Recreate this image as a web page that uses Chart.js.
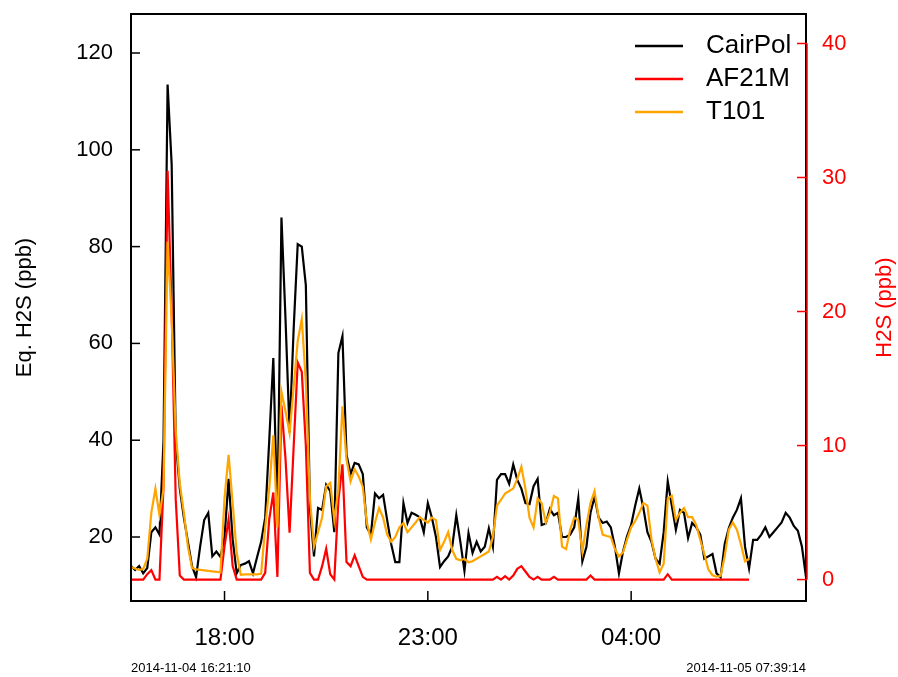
<!DOCTYPE html>
<html>
<head>
<meta charset="utf-8">
<title>CairPol / AF21M / T101</title>
<script src="https://cdn.jsdelivr.net/npm/chart.js@4.4.0/dist/chart.umd.min.js"></script>
<style>
  body { margin: 0; background: #fff; }
  #grafico { display: block; }
</style>
</head>
<body>
<canvas id="grafico" width="898" height="677"></canvas>
<script>
// horas de muestreo (cada 6 min)
const horas = [
    "15:42", "15:48", "15:54", "16:00", "16:06", "16:12", "16:18", "16:24", "16:30", "16:36",
    "16:42", "16:48", "16:54", "17:00", "17:06", "17:12", "17:18", "17:24", "17:30", "17:36",
    "17:42", "17:48", "17:54", "18:00", "18:06", "18:12", "18:18", "18:24", "18:30", "18:36",
    "18:42", "18:48", "18:54", "19:00", "19:06", "19:12", "19:18", "19:24", "19:30", "19:36",
    "19:42", "19:48", "19:54", "20:00", "20:06", "20:12", "20:18", "20:24", "20:30", "20:36",
    "20:42", "20:48", "20:54", "21:00", "21:06", "21:12", "21:18", "21:24", "21:30", "21:36",
    "21:42", "21:48", "21:54", "22:00", "22:06", "22:12", "22:18", "22:24", "22:30", "22:36",
    "22:42", "22:48", "22:54", "23:00", "23:06", "23:12", "23:18", "23:24", "23:30", "23:36",
    "23:42", "23:48", "23:54", "00:00", "00:06", "00:12", "00:18", "00:24", "00:30", "00:36",
    "00:42", "00:48", "00:54", "01:00", "01:06", "01:12", "01:18", "01:24", "01:30", "01:36",
    "01:42", "01:48", "01:54", "02:00", "02:06", "02:12", "02:18", "02:24", "02:30", "02:36",
    "02:42", "02:48", "02:54", "03:00", "03:06", "03:12", "03:18", "03:24", "03:30", "03:36",
    "03:42", "03:48", "03:54", "04:00", "04:06", "04:12", "04:18", "04:24", "04:30", "04:36",
    "04:42", "04:48", "04:54", "05:00", "05:06", "05:12", "05:18", "05:24", "05:30", "05:36",
    "05:42", "05:48", "05:54", "06:00", "06:06", "06:12", "06:18", "06:24", "06:30", "06:36",
    "06:42", "06:48", "06:54", "07:00", "07:06", "07:12", "07:18", "07:24", "07:30", "07:36",
    "07:42", "07:48", "07:54", "08:00", "08:06", "08:12", "08:18"
];

// Eq. H2S (ppb) - eje izquierdo
const cairpol = [
    14, 13.2, 14, 12.5, 13.6, 21, 22, 20.5, 40, 113.5,
    97, 40, 30, 24, 19, 14, 11.7, 18, 23.5, 25,
    16, 17, 15.9, 20, 32, 19.5, 12.5, 14.2, 14.5, 15,
    12.5, 15.8, 19, 24, 40, 57, 23.5, 86, 65, 41.6,
    63, 80.5, 80, 72, 26, 16, 26, 25.6, 30.8, 29.5,
    21, 58, 61.5, 37, 33, 35.3, 35, 33, 22, 20.5,
    29, 28, 28.7, 23.5, 18.5, 14.8, 14.8, 27, 22.9, 25,
    24.6, 24.1, 21, 27, 24, 20, 13.8, 15, 16, 18,
    24.5, 19, 13, 20.8, 16.7, 19, 17, 18, 21.8, 18,
    31.8, 33, 33, 31, 35, 31.8, 30, 27, 26.8, 30.5,
    32, 22.5, 22.8, 25.8, 24.5, 25, 20, 20, 20.5, 22,
    28, 15, 18, 25, 28.3, 24, 22.9, 23.2, 22, 18,
    12.5, 17, 20.2, 22.5, 26.5, 30, 26, 21, 19, 15.5,
    14.5, 21, 31.5, 26.5, 21.5, 25.6, 25, 19.8, 22.9, 22,
    20.5, 15.5, 16, 16.5, 12.5, 11.7, 18.5, 21.8, 24, 25.6,
    28, 18, 13.5, 19.4, 19.4, 20.5, 22, 20, 21, 22,
    23, 25, 24, 22.3, 21.3, 18, 11.7
];

// H2S (ppb) - eje derecho
const af21m = [
    0, 0, 0, 0, 0.4, 0.7, 0, 0, 7, 30.5,
    20, 6, 0.3, 0, 0, 0, 0, 0, 0, 0,
    0, 0, 0, 2.5, 4.5, 1, 0, 0, 0, 0,
    0, 0, 0, 0.5, 4.5, 6.5, 0.2, 13, 9, 3.5,
    9.9, 16.2, 15.5, 10, 0.5, 0, 0, 1, 2.3, 0.4,
    0, 5.9, 8.6, 1.3, 1, 1.8, 1, 0.2, 0, 0,
    0, 0, 0, 0, 0, 0, 0, 0, 0, 0,
    0, 0, 0, 0, 0, 0, 0, 0, 0, 0,
    0, 0, 0, 0, 0, 0, 0, 0, 0, 0,
    0.2, 0, 0.25, 0, 0.3, 0.8, 1, 0.6, 0.2, 0,
    0.2, 0, 0, 0, 0.2, 0, 0, 0, 0, 0,
    0, 0, 0, 0.3, 0, 0, 0, 0, 0, 0,
    0, 0, 0, 0, 0, 0, 0, 0, 0, 0,
    0, 0, 0.4, 0, 0, 0, 0, 0, 0, 0,
    0, 0, 0, 0, 0, 0, 0, 0, 0, 0,
    0, 0, 0
];

// Eq. H2S (ppb) - eje izquierdo
const t101 = [
    13.8, 13.5, 13.2, 13.4, 15.5, 25, 30, 24.5, 30, 81,
    65, 42, 31, 25, 18, 13.6, 13.3, 13.2, 13.1, 13,
    12.9, 12.8, 12.7, 28, 37, 27, 16.7, 12.2, 12.3, 12.3,
    12.3, 12.3, 12.4, 22, 30, 41, 22, 50, 46, 41.5,
    51, 60.5, 65, 52, 28, 18, 21, 24, 30.5, 31.2,
    23.5, 30, 47, 36, 31.5, 34, 32.5, 30.4, 23, 19.5,
    23, 26, 24, 20.5, 19, 20, 22, 22.9, 21, 22,
    23, 24.1, 23.5, 23, 24, 23.5, 17.3, 19, 21, 17.3,
    15.5, 15.2, 15.5, 14.8, 15, 15.5, 16, 16.5, 17, 20,
    26.5, 27.7, 29, 29.5, 30, 32, 34.5, 30, 24, 22,
    28, 27, 23, 25, 28.5, 28, 18, 17.5, 21.5, 24,
    23.5, 17, 22.5, 27, 29.5, 24, 20.5, 20.2, 20, 17.5,
    16, 16.8, 19.5, 22, 23.3, 25, 27, 26.5, 19.5, 15.5,
    12.7, 14.5, 28, 28.5, 23.5, 25, 26, 24.1, 24.1, 22.5,
    19.4, 16.5, 13.3, 12.1, 11.8, 12, 16, 21.5, 23, 21.5,
    18.5, 15, 15.5
];

const ticksIzq = [20, 40, 60, 80, 100, 120];
const ticksDer = [0, 10, 20, 30, 40];
const ticksHora = ["18:00", "23:00", "04:00"];
const fechaInicio = "2014-11-04 16:21:10";
const fechaFin = "2014-11-05 07:39:14";

const FUENTE = "'Liberation Sans', Arial, sans-serif";

const series = [
    { label: "CairPol", data: cairpol, color: "#000000", eje: "y", orden: 2 },
    { label: "AF21M", data: af21m, color: "#ff0000", eje: "y1", orden: 1 },
    { label: "T101", data: t101, color: "#ffa500", eje: "y", orden: 0 }
];

// caja, marcas hacia adentro, titulos, fechas y leyenda
const marco = {
    id: "marco",
    afterDraw(chart) {
        const ctx = chart.ctx;
        const area = chart.chartArea;
        const ejeX = chart.scales.x;
        const ejeIzq = chart.scales.y;
        const ejeDer = chart.scales.y1;

        function linea(x1, y1, x2, y2) {
            ctx.beginPath();
            ctx.moveTo(x1, y1);
            ctx.lineTo(x2, y2);
            ctx.stroke();
        }

        ctx.save();

        ctx.strokeStyle = "#000";
        ctx.lineWidth = 1.5;
        ticksIzq.forEach(v => {
            let y = ejeIzq.getPixelForValue(v);
            linea(area.left, y, area.left + 9, y);
        });
        ticksHora.forEach(h => {
            let x = ejeX.getPixelForValue(horas.indexOf(h));
            linea(x, area.bottom, x, area.bottom - 10);
        });

        ctx.lineWidth = 2;
        ctx.strokeRect(area.left, area.top, area.right - area.left, area.bottom - area.top);

        // eje derecho en rojo
        ctx.strokeStyle = "#ff0000";
        ctx.lineWidth = 1.5;
        let yMin = ejeDer.getPixelForValue(ticksDer[0]);
        let yMax = ejeDer.getPixelForValue(ticksDer[ticksDer.length - 1]);
        linea(area.right + 1, yMin, area.right + 1, yMax);
        ticksDer.forEach(v => {
            let y = ejeDer.getPixelForValue(v);
            linea(area.right - 9, y, area.right + 1, y);
        });

        // titulos de ejes
        let yc = (area.top + area.bottom) / 2;
        ctx.font = "22px " + FUENTE;
        ctx.textAlign = "center";
        ctx.textBaseline = "middle";
        ctx.fillStyle = "#000";
        ctx.save();
        ctx.translate(25, yc);
        ctx.rotate(-Math.PI / 2);
        ctx.fillText("Eq. H2S (ppb)", 0, 0);
        ctx.restore();
        ctx.fillStyle = "#ff0000";
        ctx.save();
        ctx.translate(885, yc);
        ctx.rotate(-Math.PI / 2);
        ctx.fillText("H2S (ppb)", 0, 0);
        ctx.restore();

        // fechas de inicio y fin
        ctx.fillStyle = "#000";
        ctx.font = "13px " + FUENTE;
        ctx.textAlign = "left";
        ctx.fillText(fechaInicio, area.left, 668);
        ctx.textAlign = "right";
        ctx.fillText(fechaFin, area.right, 668);

        // leyenda
        ctx.font = "26px " + FUENTE;
        ctx.textAlign = "left";
        series.forEach((s, i) => {
            let y = 46 + i * 33;
            ctx.strokeStyle = s.color;
            ctx.lineWidth = 2.5;
            linea(635, y, 683, y);
            ctx.fillStyle = "#000";
            ctx.fillText(s.label, 706, y);
        });

        ctx.restore();
    }
};

let datasets = series.map(s => ({
    label: s.label,
    data: s.data,
    borderColor: s.color,
    backgroundColor: "transparent",
    borderWidth: 2.2,
    pointRadius: 0,
    tension: 0,
    yAxisID: s.eje,
    order: s.orden
}));

// sin margen extra por las etiquetas de los ejes verticales
function ajustarVertical(ancho) {
    return s => {
        s.width = ancho;
        s.paddingTop = 0;
        s.paddingBottom = 0;
    };
}

new Chart(document.getElementById("grafico"), {
    type: "line",
    data: { labels: horas, datasets: datasets },
    options: {
        responsive: false,
        animation: false,
        layout: { padding: { top: 14, left: 0, right: 0, bottom: 0 } },
        plugins: {
            legend: { display: false },
            tooltip: { enabled: false }
        },
        scales: {
            x: {
                type: "category",
                grid: { display: false, drawTicks: false },
                border: { display: false },
                ticks: {
                    autoSkip: false,
                    maxRotation: 0,
                    color: "#000",
                    padding: 23,
                    font: { size: 24, family: FUENTE },
                    callback: function (v, i) {
                        let h = horas[i];
                        return ticksHora.includes(h) ? h : null;
                    }
                },
                afterFit: s => {
                    s.height = 76;
                    s.paddingLeft = 0;
                    s.paddingRight = 0;
                }
            },
            y: {
                position: "left",
                min: 6.78,
                max: 128.06,
                grid: { display: false, drawTicks: false },
                border: { display: false },
                ticks: { color: "#000", padding: 18, font: { size: 22, family: FUENTE } },
                afterBuildTicks: s => { s.ticks = ticksIzq.map(v => ({ value: v })); },
                afterFit: ajustarVertical(131)
            },
            y1: {
                position: "right",
                min: -1.6,
                max: 42.2,
                grid: { display: false, drawTicks: false },
                border: { display: false },
                ticks: { color: "#ff0000", padding: 16, font: { size: 22, family: FUENTE } },
                afterBuildTicks: s => { s.ticks = ticksDer.map(v => ({ value: v })); },
                afterFit: ajustarVertical(92)
            }
        }
    },
    plugins: [marco]
});
</script>
</body>
</html>
